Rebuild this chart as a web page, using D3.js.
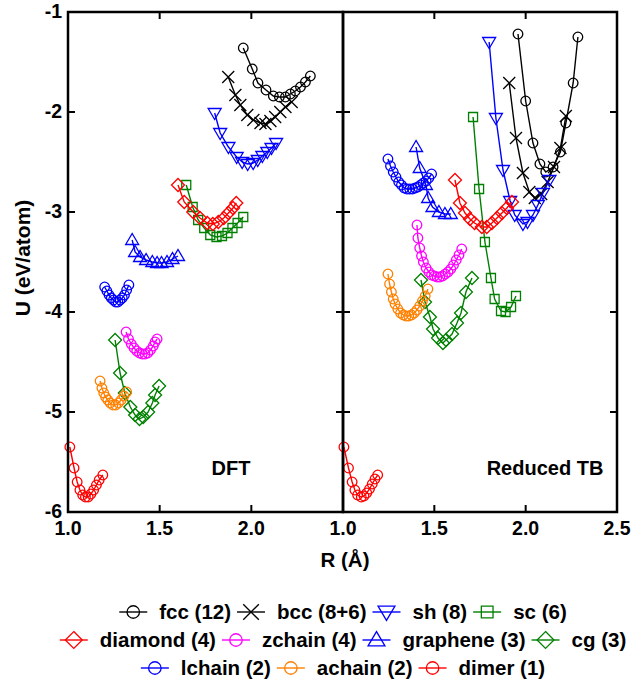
<!DOCTYPE html>
<html>
<head>
<meta charset="utf-8">
<script src="https://cdn.jsdelivr.net/npm/d3@7"></script>
<style>
  body { margin: 0; background: #fff; }
  text { font-family: "Liberation Sans", Arial, sans-serif; font-weight: bold; }
</style>
</head>
<body>
<div id="chart"></div>
<script>
// Binding curves U(R) for carbon structures: DFT vs reduced tight-binding
const structures = ["fcc", "bcc", "sh", "sc", "diamond", "zchain", "graphene", "cg", "lchain", "achain", "dimer"];
const coordination = ["12", "8+6", "8", "6", "4", "4", "3", "3", "2", "2", "1"];
const colors = ["#000000", "#000000", "#0000ff", "#008000", "#ff0000", "#ff00ff", "#0000ff", "#008000", "#0000ff", "#ff8000", "#ff0000"];
const markers = ["circle", "cross", "triDown", "square", "diamond", "circle", "triUp", "diamond", "circle", "circle", "circle"];
const legendRows = [[0, 1, 2, 3], [4, 5, 6, 7], [8, 9, 10]];

const xTicks = [1.0, 1.5, 2.0, 2.5];
const yTicks = [-1, -2, -3, -4, -5, -6];

// [R (Å), U (eV/atom)] per structure, DFT panel
const dft = {
  fcc: [[1.956,-1.36],[2.005,-1.57],[2.036,-1.71],[2.08,-1.78],[2.12,-1.84],[2.153,-1.85],[2.186,-1.85],[2.213,-1.82],[2.24,-1.79],[2.268,-1.75],[2.295,-1.70],[2.322,-1.64]],
  bcc: [[1.874,-1.65],[1.913,-1.83],[1.94,-1.93],[1.978,-2.03],[2.011,-2.08],[2.05,-2.11],[2.077,-2.12],[2.104,-2.09],[2.13,-2.05],[2.158,-2.00],[2.186,-1.95],[2.22,-1.90]],
  sh: [[1.80,-2.01],[1.83,-2.21],[1.875,-2.35],[1.92,-2.45],[1.95,-2.50],[1.98,-2.52],[2.01,-2.51],[2.035,-2.48],[2.06,-2.44],[2.087,-2.40],[2.11,-2.36],[2.135,-2.31]],
  sc: [[1.645,-2.73],[1.68,-2.95],[1.71,-3.08],[1.743,-3.16],[1.776,-3.23],[1.81,-3.25],[1.84,-3.24],[1.87,-3.21],[1.897,-3.16],[1.925,-3.11],[1.956,-3.05]],
  diamond: [[1.60,-2.73],[1.634,-2.90],[1.683,-3.00],[1.72,-3.06],[1.76,-3.11],[1.79,-3.12],[1.82,-3.10],[1.85,-3.06],[1.875,-3.01],[1.90,-2.96],[1.918,-2.91]],
  zchain: [[1.317,-4.20],[1.33,-4.27],[1.345,-4.32],[1.36,-4.36],[1.375,-4.39],[1.39,-4.41],[1.405,-4.42],[1.42,-4.42],[1.435,-4.41],[1.45,-4.38],[1.465,-4.34],[1.475,-4.30],[1.486,-4.27]],
  graphene: [[1.35,-3.28],[1.366,-3.40],[1.393,-3.45],[1.426,-3.48],[1.46,-3.50],[1.486,-3.51],[1.51,-3.51],[1.54,-3.50],[1.57,-3.47],[1.60,-3.44]],
  cg: [[1.257,-4.28],[1.284,-4.61],[1.31,-4.81],[1.34,-4.95],[1.366,-5.03],[1.39,-5.07],[1.41,-5.05],[1.437,-5.00],[1.46,-4.91],[1.475,-4.83],[1.497,-4.74]],
  lchain: [[1.20,-3.75],[1.212,-3.79],[1.224,-3.83],[1.236,-3.86],[1.248,-3.88],[1.26,-3.90],[1.272,-3.90],[1.284,-3.88],[1.296,-3.86],[1.308,-3.83],[1.32,-3.78],[1.332,-3.73]],
  achain: [[1.175,-4.69],[1.185,-4.76],[1.195,-4.81],[1.205,-4.85],[1.217,-4.88],[1.23,-4.91],[1.245,-4.93],[1.26,-4.93],[1.275,-4.91],[1.29,-4.88],[1.305,-4.84],[1.32,-4.80]],
  dimer: [[1.01,-5.35],[1.033,-5.56],[1.05,-5.70],[1.065,-5.78],[1.08,-5.83],[1.095,-5.85],[1.11,-5.85],[1.125,-5.82],[1.14,-5.78],[1.155,-5.73],[1.17,-5.68],[1.19,-5.63]]
};

// same structures, reduced TB panel
const tb = {
  fcc: [[1.958,-1.22],[2.0,-1.89],[2.04,-2.31],[2.078,-2.52],[2.11,-2.60],[2.15,-2.55],[2.19,-2.40],[2.22,-2.11],[2.26,-1.71],[2.286,-1.25]],
  bcc: [[1.91,-1.71],[1.947,-2.26],[1.985,-2.61],[2.02,-2.80],[2.05,-2.86],[2.085,-2.82],[2.12,-2.70],[2.155,-2.55],[2.19,-2.36],[2.22,-2.04]],
  sh: [[1.80,-1.30],[1.837,-2.06],[1.876,-2.58],[1.915,-2.89],[1.94,-3.03],[1.985,-3.12],[2.01,-3.10],[2.04,-3.03],[2.067,-2.93],[2.095,-2.81],[2.13,-2.68]],
  sc: [[1.712,-2.05],[1.745,-2.77],[1.777,-3.30],[1.81,-3.66],[1.83,-3.87],[1.865,-3.99],[1.89,-4.00],[1.92,-3.95],[1.947,-3.84]],
  diamond: [[1.613,-2.68],[1.64,-2.91],[1.668,-3.01],[1.695,-3.07],[1.72,-3.11],[1.76,-3.15],[1.787,-3.15],[1.815,-3.11],[1.843,-3.06],[1.87,-3.01],[1.897,-2.96],[1.925,-2.90]],
  zchain: [[1.405,-3.13],[1.41,-3.26],[1.42,-3.36],[1.43,-3.44],[1.44,-3.50],[1.455,-3.56],[1.47,-3.60],[1.485,-3.63],[1.50,-3.64],[1.515,-3.65],[1.53,-3.65],[1.545,-3.64],[1.56,-3.62],[1.575,-3.60],[1.59,-3.57],[1.605,-3.53],[1.62,-3.48],[1.635,-3.43],[1.65,-3.37]],
  graphene: [[1.40,-2.35],[1.42,-2.56],[1.454,-2.73],[1.466,-2.86],[1.49,-2.95],[1.525,-3.00],[1.558,-3.02],[1.59,-3.02]],
  cg: [[1.427,-3.68],[1.449,-3.90],[1.476,-4.05],[1.493,-4.17],[1.52,-4.26],[1.547,-4.31],[1.564,-4.28],[1.597,-4.22],[1.624,-4.11],[1.646,-4.01],[1.673,-3.80],[1.706,-3.66]],
  lchain: [[1.246,-2.47],[1.26,-2.54],[1.275,-2.60],[1.29,-2.65],[1.305,-2.70],[1.32,-2.73],[1.335,-2.76],[1.35,-2.77],[1.365,-2.77],[1.38,-2.77],[1.395,-2.76],[1.41,-2.75],[1.425,-2.73],[1.44,-2.71],[1.455,-2.69],[1.47,-2.66],[1.485,-2.62]],
  achain: [[1.246,-3.62],[1.255,-3.72],[1.265,-3.80],[1.275,-3.87],[1.285,-3.92],[1.30,-3.97],[1.315,-4.01],[1.33,-4.03],[1.345,-4.04],[1.36,-4.04],[1.375,-4.03],[1.39,-4.01],[1.405,-3.98],[1.42,-3.94],[1.435,-3.89],[1.45,-3.84],[1.465,-3.77]],
  dimer: [[1.005,-5.35],[1.03,-5.56],[1.05,-5.70],[1.065,-5.78],[1.08,-5.83],[1.10,-5.85],[1.115,-5.84],[1.13,-5.81],[1.145,-5.77],[1.16,-5.72],[1.175,-5.67],[1.19,-5.63]]
};

const width = 634, height = 684;
const plotTop = 12, plotBottom = 512;
const panels = [
  {name: "DFT", data: dft, left: 68, right: 343, labels: [1.0, 1.5, 2.0], tag: "DFT", tagX: 231},
  {name: "TB", data: tb, left: 343, right: 617, labels: [1.0, 1.5, 2.0, 2.5], tag: "Reduced TB", tagX: 545}
];

let svg = d3.select("#chart")
  .append("svg")
  .attr("width", width)
  .attr("height", height);

let y = d3.scaleLinear().domain([-6, -1]).range([plotBottom, plotTop]);

// marker shapes drawn around (0,0)
function markerPath(kind, k) {
  const s = k || 1;
  switch (kind) {
    case "cross": return `M${-6*s},${-6*s}L${6*s},${6*s}M${-6*s},${6*s}L${6*s},${-6*s}`;
    case "triDown": return `M${-6.5*s},${-4.5*s}L${6.5*s},${-4.5*s}L0,${6.5*s}Z`;
    case "triUp": return `M${-6.5*s},${4.5*s}L${6.5*s},${4.5*s}L0,${-6.5*s}Z`;
    case "square": return `M${-4.5*s},${-4.5*s}H${4.5*s}V${4.5*s}H${-4.5*s}Z`;
    case "diamond": return `M0,${-6.5*s}L${6.5*s},0L0,${6.5*s}L${-6.5*s},0Z`;
  }
  return null;
}

function drawMarker(g, kind, color, cx, cy, k) {
  if (kind === "circle") {
    g.append("circle")
      .attr("cx", cx).attr("cy", cy).attr("r", 4.8 * (k || 1))
      .attr("fill", "none").attr("stroke", color).attr("stroke-width", 1.3);
  } else {
    g.append("path")
      .attr("d", markerPath(kind, k))
      .attr("transform", `translate(${cx},${cy})`)
      .attr("fill", "none").attr("stroke", color).attr("stroke-width", 1.3);
  }
}

panels.forEach(function(p) {
  let x = d3.scaleLinear().domain([1.0, 2.5]).range([p.left, p.right]);
  let g = svg.append("g");

  // curves, in legend order
  structures.forEach(function(name, i) {
    let pts = p.data[name];
    let line = d3.line().x(d => x(d[0])).y(d => y(d[1]));
    g.append("path")
      .attr("d", line(pts))
      .attr("fill", "none")
      .attr("stroke", colors[i])
      .attr("stroke-width", 1.4);
    pts.forEach(function(d) {
      drawMarker(g, markers[i], colors[i], x(d[0]), y(d[1]), 1);
    });
  });

  // inner ticks on all four sides
  let ticks = svg.append("g").attr("stroke", "#000").attr("stroke-width", 2);
  [1.5, 2.0].forEach(function(t) {
    ticks.append("line").attr("x1", x(t)).attr("x2", x(t)).attr("y1", plotTop).attr("y2", plotTop + 7);
    ticks.append("line").attr("x1", x(t)).attr("x2", x(t)).attr("y1", plotBottom).attr("y2", plotBottom - 7);
  });
  yTicks.slice(1, -1).forEach(function(t) {
    ticks.append("line").attr("x1", p.left).attr("x2", p.left + 7).attr("y1", y(t)).attr("y2", y(t));
    ticks.append("line").attr("x1", p.right).attr("x2", p.right - 7).attr("y1", y(t)).attr("y2", y(t));
  });

  // frame
  svg.append("rect")
    .attr("x", p.left).attr("y", plotTop)
    .attr("width", p.right - p.left).attr("height", plotBottom - plotTop)
    .attr("fill", "none").attr("stroke", "#000").attr("stroke-width", 2.5);

  // x tick labels
  svg.append("g").selectAll("text")
    .data(xTicks.filter(t => p.labels.includes(t)))
    .enter()
    .append("text")
    .attr("x", d => x(d))
    .attr("y", 535)
    .style("text-anchor", "middle")
    .style("font-size", "19.5px")
    .text(d => d3.format(".1f")(d));

  svg.append("text")
    .attr("x", p.tagX)
    .attr("y", 475)
    .style("text-anchor", "middle")
    .style("font-size", "20px")
    .text(p.tag);
});

// y tick labels
svg.append("g").selectAll("text")
  .data(yTicks)
  .enter()
  .append("text")
  .attr("x", 62)
  .attr("y", d => y(d) + 6)
  .style("text-anchor", "end")
  .style("font-size", "19.5px")
  .text(d => d);

// axis titles
svg.append("text")
  .attr("x", 345)
  .attr("y", 567)
  .style("text-anchor", "middle")
  .style("font-size", "20.5px")
  .text("R (Å)");

svg.append("text")
  .attr("transform", `translate(30, 258) rotate(-90)`)
  .style("text-anchor", "middle")
  .style("font-size", "21px")
  .text("U (eV/atom)");

// legend, three centred rows
const legendY = [619, 647, 675];
const legendCenter = 343;
legendRows.forEach(function(row, r) {
  let rowG = svg.append("g");
  let cursor = 0;
  row.forEach(function(i) {
    let item = rowG.append("g").attr("transform", `translate(${cursor},0)`);
    item.append("line")
      .attr("x1", 0).attr("x2", 28)
      .attr("y1", legendY[r] - 7).attr("y2", legendY[r] - 7)
      .attr("stroke", colors[i]).attr("stroke-width", 1.4);
    drawMarker(item, markers[i], colors[i], 14, legendY[r] - 7, 1.3);
    let label = item.append("text")
      .attr("x", 40)
      .attr("y", legendY[r])
      .style("font-size", "20.5px")
      .text(`${structures[i]} (${coordination[i]})`);
    cursor += 40 + label.node().getComputedTextLength() + 6;
  });
  let rowWidth = cursor - 6;
  rowG.attr("transform", `translate(${legendCenter - rowWidth / 2},0)`);
});
</script>
</body>
</html>
